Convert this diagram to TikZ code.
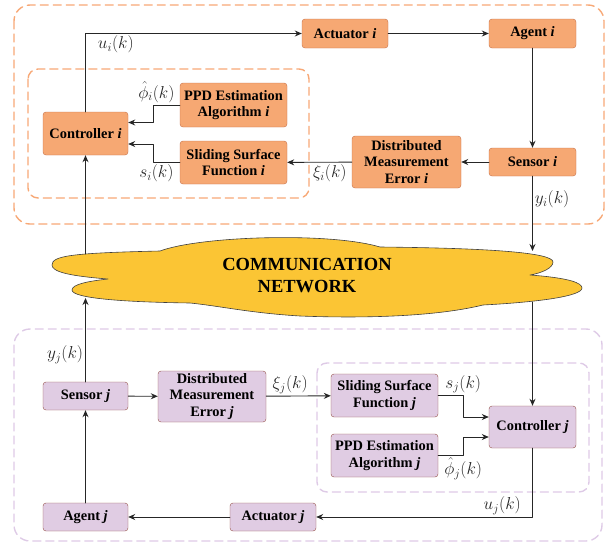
\documentclass[tikz,border=0pt]{standalone}
\usepackage[no-math]{fontspec}
\setmainfont{Liberation Serif}
\usetikzlibrary{arrows.meta}
\definecolor{orfill}{RGB}{246,168,115}
\definecolor{orline}{RGB}{196,112,72}
\definecolor{ordash}{RGB}{247,168,118}
\definecolor{pufill}{RGB}{224,204,227}
\definecolor{puline}{RGB}{150,82,72}
\definecolor{pudash}{RGB}{222,202,230}
\definecolor{cloudfill}{RGB}{251,197,52}
\tikzset{
	blki/.style={draw=orline,fill=orfill,rounded corners=3pt,align=center,inner sep=1pt,font=\fontsize{14.4}{16.5}\selectfont\bfseries},
	blkj/.style={draw=puline,fill=pufill,rounded corners=3pt,align=center,inner sep=1pt,font=\fontsize{14.4}{16.5}\selectfont\bfseries},
	grpi/.style={draw=ordash,line width=1.4pt,dash pattern=on 8pt off 5pt},
	grpj/.style={draw=pudash,line width=1.4pt,dash pattern=on 8pt off 5pt},
	sig/.style={-{Stealth[length=7pt,width=6pt]},line width=.9pt,black!85},
	lbl/.style={font=\fontsize{16.5}{19}\selectfont,inner sep=2pt}
}
\begin{document}
\begin{tikzpicture}[x=1pt,y=-1pt,line join=round,line cap=round]
	\useasboundingbox (0,0) rectangle (608,544);
	\draw[grpi,rounded corners=16pt] (14,5) rectangle (604,224);
	\draw[grpi,rounded corners=10pt] (28,69) rectangle (309,198);
	\draw[grpj,rounded corners=16pt] (14,329) rectangle (602,541);
	\draw[grpj,rounded corners=10pt] (317,363) rectangle (589,492);
	\node[blki,minimum width=85pt,minimum height=43pt] (ctrli) at (85.5,133.5) {Controller \textit{i}};
	\node[blki,minimum width=107pt,minimum height=44pt] (ppdi) at (233.5,105) {PPD Estimation\\Algorithm \textit{i}};
	\node[blki,minimum width=107pt,minimum height=43pt] (ssfi) at (233.5,162.5) {Sliding Surface\\Function \textit{i}};
	\node[blki,minimum width=86pt,minimum height=29pt] (acti) at (345,33.5) {Actuator \textit{i}};
	\node[blki,minimum width=87pt,minimum height=29pt] (agenti) at (532.5,33.5) {Agent \textit{i}};
	\node[blki,minimum width=87pt,minimum height=28pt] (sensori) at (532.5,162) {Sensor \textit{i}};
	\node[blki,minimum width=109pt,minimum height=52pt] (dmei) at (406.5,162) {Distributed\\Measurement\\Error \textit{i}};
	\node[blkj,minimum width=85pt,minimum height=28pt] (sensorj) at (85.5,396) {Sensor \textit{j}};
	\node[blkj,minimum width=108pt,minimum height=51pt] (dmej) at (212,396.5) {Distributed\\Measurement\\Error \textit{j}};
	\node[blkj,minimum width=85pt,minimum height=28pt] (agentj) at (85.5,517) {Agent \textit{j}};
	\node[blkj,minimum width=86pt,minimum height=28pt] (actj) at (273,517) {Actuator \textit{j}};
	\node[blkj,minimum width=107pt,minimum height=43pt] (ssfj) at (384.5,395.5) {Sliding Surface\\Function \textit{j}};
	\node[blkj,minimum width=107pt,minimum height=43pt] (ppdj) at (384.5,455.5) {PPD Estimation\\Algorithm \textit{j}};
	\node[blkj,minimum width=87pt,minimum height=42pt] (ctrlj) at (532.5,427) {Controller \textit{j}};
	\filldraw[fill=cloudfill,draw=black!75,line width=.6pt] (52,265) .. controls (52,256) and (70,253) .. (160,251)
		.. controls (200,236) and (330,232) .. (380,247) .. controls (480,248) and (553,252) .. (553,262)
		.. controls (553,268) and (542,273) .. (530,275) .. controls (570,278) and (582,283) .. (582,288)
		.. controls (582,296) and (540,302) .. (483,305) .. controls (430,318) and (350,318) .. (300,316)
		.. controls (250,313) and (220,306) .. (190,303) .. controls (120,302) and (72,298) .. (72,290)
		.. controls (72,284) and (90,281) .. (108,279) .. controls (70,276) and (52,272) .. (52,265) -- cycle;
	\node[align=center,font=\fontsize{18.5}{22}\selectfont\bfseries] (net) at (307,276) {COMMUNICATION\\NETWORK};
	\coordinate (cTL) at (85.5,254);
	\coordinate (cBL) at (85.5,298);
	\coordinate (cTR) at (532.5,251);
	\coordinate (cBR) at (532.5,302);
	\draw[sig] (ctrli.north) |- node[lbl,pos=.57,below]{$u_i(k)$} (acti.west);
	\draw[sig] (acti) -- (agenti);
	\draw[sig] (agenti) -- (sensori);
	\draw[sig] (sensori) -- (dmei);
	\draw[sig] (dmei) -- node[lbl,pos=.34,below]{$\xi_i(k)$} (ssfi);
	\draw[sig] (ssfi.west) -- node[lbl,pos=.9,below]{$s_i(k)$} ++(-26,0) |- ([yshift=-10.5pt]ctrli.east);
	\draw[sig] (ppdi.west) -- node[lbl,pos=.9,above]{$\hat\phi_i(k)$} ++(-26,0) |- ([yshift=11pt]ctrli.east);
	\draw[sig] (sensori) -- node[lbl,pos=.31,right]{$y_i(k)$} (cTR);
	\draw[sig] (cTL) -- (ctrli);
	\draw[sig] (sensorj) -- node[lbl,pos=.32,left]{$y_j(k)$} (cBL);
	\draw[sig] (cBR) -- (ctrlj);
	\draw[sig] (agentj) -- (sensorj);
	\draw[sig] (sensorj) -- (dmej);
	\draw[sig] (dmej) -- node[lbl,pos=.37,above]{$\xi_j(k)$} (ssfj);
	\draw[sig] (ssfj.east) -- node[lbl,pos=1,above]{$s_j(k)$} ++(25,0) |- ([yshift=10pt]ctrlj.west);
	\draw[sig] (ppdj.east) -- node[lbl,pos=1,below]{$\hat\phi_j(k)$} ++(25,0) |- ([yshift=-10pt]ctrlj.west);
	\draw[sig] (ctrlj.south) |- node[lbl,pos=.57,above]{$u_j(k)$} (actj.east);
	\draw[sig] (actj) -- (agentj);
\end{tikzpicture}
\end{document}
